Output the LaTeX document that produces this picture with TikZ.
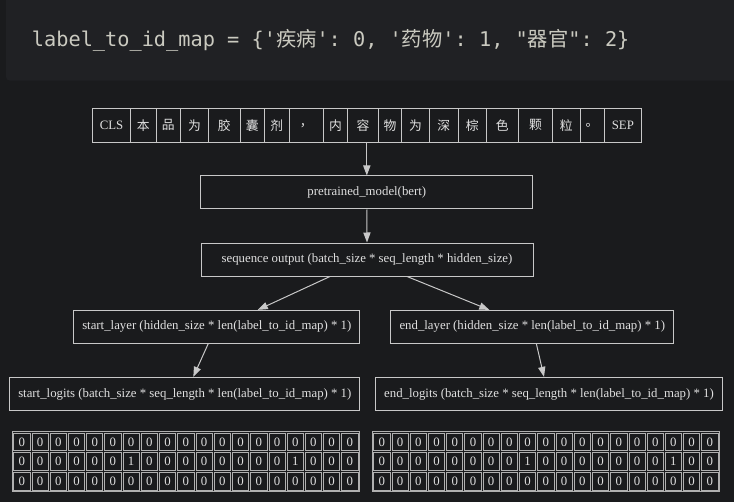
\documentclass[tikz,border=0pt]{standalone}
\usepackage{fontspec}
\setmainfont{Liberation Serif}
\setmonofont{DejaVu Sans Mono}
\newfontfamily\cjk{Noto Sans CJK SC}
\usetikzlibrary{arrows.meta,fit,calc}
\definecolor{bg}{HTML}{1A1B1D}
\definecolor{block}{HTML}{202124}
\definecolor{codetxt}{HTML}{CACAC0}
\definecolor{linec}{HTML}{C8C8C8}
\definecolor{txt}{HTML}{E0E0E0}
\definecolor{cellc}{HTML}{B0B0B0}
\newcommand\cj[1]{{\cjk #1}}
\begin{document}
\begin{tikzpicture}[x=0.75pt,y=-0.75pt,
  box/.style={draw=linec, line width=0.75pt, fill=bg, text=txt, inner sep=0pt,
    font=\fontsize{9.6}{11}\selectfont},
  tok/.style={box, minimum height=25.5pt},
  cell/.style={draw=cellc, line width=0.55pt, text=txt, inner sep=0pt,
    minimum width=12.17pt, minimum height=13.25pt, font=\fontsize{9.6}{11}\selectfont},
  tbl/.style={draw=cellc, line width=0.55pt, inner sep=0.75pt},
  arr/.style={draw=linec, line width=0.75pt, -{Triangle[length=7.5pt,width=5.4pt]}}
]
\useasboundingbox (0,0) rectangle (734,502);
\clip (0,0) rectangle (734,502);
\fill[bg] (0,0) rectangle (734,502);
\fill[block, rounded corners=3pt] (6,-10) rectangle (760,80.7);

\node[anchor=base west, inner sep=0pt, text=codetxt,
  font=\ttfamily\fontsize{15.2}{18}\selectfont] (code) at (31.7,46.3)
  {label\_to\_id\_map = \{'\cj{疾病}': 0, '\cj{药物}': 1, "\cj{器官}": 2\}};

% token row
\foreach \a/\b/\t [count=\i] in {
  92.3/130.7/CLS, 130.7/156/\cj{本}, 156/180.7/\cj{品}, 180.7/208.3/\cj{为},
  208.3/240/\cj{胶}, 240/264.3/\cj{囊}, 264.3/289/\cj{剂}, 289/323.3/\cj{，},
  323.3/347.7/\cj{内}, 347.7/378.3/\cj{容}, 378.3/401.7/\cj{物}, 401.7/429.3/\cj{为},
  429.3/458.3/\cj{深}, 458.3/486/\cj{棕}, 486/518.3/\cj{色}, 518.3/552.7/\cj{颗},
  552.7/580/\cj{粒}, 580/604/\cj{。}, 604/641.7/SEP} {
  \pgfmathsetmacro\w{(\b-\a)*0.75}
  \node[tok, minimum width=\w pt] (t\i) at ({(\a+\b)/2},125.3) {\t};
}
\node[fit=(t1)(t19), inner sep=0pt] (tokens) {};

\node[box, minimum width=248.8pt, minimum height=24.75pt] (pre) at (366.8,192.5) {pretrained\_model(bert)};
\node[box, minimum width=249pt, minimum height=24.75pt] (seq) at (367,259.5) {sequence output (batch\_size * seq\_length * hidden\_size)};
\node[box, minimum width=214.7pt, minimum height=24.5pt] (sl) at (216.8,326.7) {start\_layer (hidden\_size * len(label\_to\_id\_map) * 1)};
\node[box, minimum width=212pt, minimum height=24.5pt] (el) at (532.3,326.7) {end\_layer (hidden\_size * len(label\_to\_id\_map) * 1)};
\node[box, minimum width=262.7pt, minimum height=25pt] (slog) at (184.8,394) {start\_logits (batch\_size * seq\_length * len(label\_to\_id\_map) * 1)};
\node[box, minimum width=260pt, minimum height=25pt] (elog) at (549,394) {end\_logits (batch\_size * seq\_length * len(label\_to\_id\_map) * 1)};

\draw[arr] (tokens.south -| pre.north) -- (pre.north);
\draw[arr] (pre.south) -- (seq.north);
\draw[arr] ($(seq.south)+(-37,0)$) -- ($(sl.north)+(41,0)$);
\draw[arr] ($(seq.south)+(40,0)$) -- ($(el.north)+(-43,0)$);
\draw[arr] ($(sl.south)+(-8.5,0)$) -- ($(slog.north)+(8.5,0)$);
\draw[arr] ($(el.south)+(4,0)$) -- ($(elog.north)+(-5,0)$);

% matrices
\foreach \r in {1,2,3} {
  \foreach \c in {1,...,19} {
    \pgfmathtruncatemacro\vl{(\r==2)&&((\c==7)||(\c==16))}
    \pgfmathtruncatemacro\vr{(\r==2)&&((\c==9)||(\c==17))}
    \node[cell] (L-\r-\c) at ({12.7+(\c-0.5)*18.226},{432+(\r-0.5)*19.67}) {\vl};
    \node[cell] (R-\r-\c) at ({372.7+(\c-0.5)*18.226},{432+(\r-0.5)*19.67}) {\vr};
  }
}
\node[tbl, fit=(L-1-1)(L-3-19)] (ltab) {};
\node[tbl, fit=(R-1-1)(R-3-19)] (rtab) {};
\end{tikzpicture}
\end{document}
